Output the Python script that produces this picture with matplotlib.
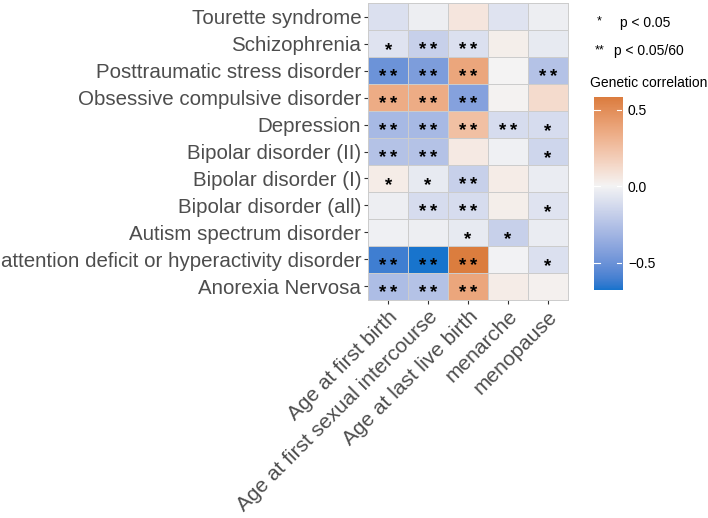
import numpy as np
import matplotlib.pyplot as plt
from matplotlib.colors import ListedColormap, Normalize, to_rgb

plt.rcParams['font.family'] = ['Liberation Sans', 'DejaVu Sans']

traits = ['Age at first birth', 'Age at first sexual intercourse',
          'Age at last live birth', 'menarche', 'menopause']
disorders = ['Tourette syndrome', 'Schizophrenia', 'Posttraumatic stress disorder',
             'Obsessive compulsive disorder', 'Depression', 'Bipolar disorder (II)',
             'Bipolar disorder (I)', 'Bipolar disorder (all)', 'Autism spectrum disorder',
             'attention deficit or hyperactivity disorder', 'Anorexia Nervosa']

# genetic correlation, rows top -> bottom
rg = np.array([
    [-0.10, -0.03, 0.07, -0.08, -0.03],
    [-0.08, -0.18, -0.10, 0.03, -0.05],
    [-0.50, -0.45, 0.38, 0.00, -0.25],
    [0.35, 0.35, -0.42, 0.01, 0.12],
    [-0.30, -0.30, 0.25, -0.12, -0.12],
    [-0.25, -0.25, 0.05, -0.02, -0.15],
    [0.04, -0.05, -0.18, 0.04, -0.04],
    [-0.03, -0.12, -0.12, 0.03, -0.08],
    [-0.02, -0.03, -0.05, -0.18, -0.04],
    [-0.62, -0.68, 0.58, -0.01, -0.10],
    [-0.28, -0.25, 0.38, 0.04, 0.02],
])
stars = [
    ['', '', '', '', ''],
    ['*', '**', '**', '', ''],
    ['**', '**', '**', '', '**'],
    ['**', '**', '**', '', ''],
    ['**', '**', '**', '**', '*'],
    ['**', '**', '', '', '*'],
    ['*', '*', '**', '', ''],
    ['', '**', '**', '', '*'],
    ['', '', '*', '*', ''],
    ['**', '**', '**', '', '*'],
    ['**', '**', '**', '', ''],
]


# diverging ramp interpolated in CIELAB (like ggplot's gradient2)
def srgb_to_lab(c):
    c = np.asarray(c, float)
    lin = np.where(c <= 0.04045, c / 12.92, ((c + 0.055) / 1.055) ** 2.4)
    M = np.array([[0.4124, 0.3576, 0.1805], [0.2126, 0.7152, 0.0722], [0.0193, 0.1192, 0.9505]])
    xyz = M @ lin / np.array([0.95047, 1.0, 1.08883])
    f = np.where(xyz > 0.008856, np.cbrt(xyz), 7.787 * xyz + 16 / 116)
    return np.array([116 * f[1] - 16, 500 * (f[0] - f[1]), 200 * (f[1] - f[2])])


def lab_to_srgb(lab):
    L, a, b = lab
    fy = (L + 16) / 116
    fx, fz = fy + a / 500, fy - b / 200
    f = np.array([fx, fy, fz])
    xyz = np.where(f ** 3 > 0.008856, f ** 3, (f - 16 / 116) / 7.787) * np.array([0.95047, 1.0, 1.08883])
    Minv = np.array([[3.2406, -1.5372, -0.4986], [-0.9689, 1.8758, 0.0415], [0.0557, -0.2040, 1.0570]])
    lin = Minv @ xyz
    c = np.where(lin <= 0.0031308, 12.92 * lin, 1.055 * np.clip(lin, 0, None) ** (1 / 2.4) - 0.055)
    return np.clip(c, 0, 1)


low, mid, high = [srgb_to_lab(to_rgb(c)) for c in ('#1874CD', '#F4F4F4', '#D2691E')]
ramp = []
for t in np.linspace(0, 1, 256):
    if t < 0.5:
        lab = low + (mid - low) * (t / 0.5)
    else:
        lab = mid + (high - mid) * ((t - 0.5) / 0.5)
    ramp.append(lab_to_srgb(lab))
cmap = ListedColormap(ramp)
m = np.abs(rg).max()
norm = Normalize(-m, m)

fig = plt.figure(figsize=(7.08, 5.18), dpi=100)
ax = fig.add_axes([0.520, 0.421, 0.282, 0.573])
ax.pcolormesh(np.arange(len(traits) + 1), np.arange(len(disorders) + 1), rg,
              cmap=cmap, norm=norm, edgecolors='#cccccc', linewidth=0.7)
ax.set_xlim(0, len(traits))
ax.set_ylim(len(disorders), 0)
for i in range(len(disorders)):
    for j in range(len(traits)):
        if stars[i][j]:
            ax.text(j + 0.5, i + 0.92, '\u2009'.join(stars[i][j]), ha='center',
                    va='baseline', fontsize=13.5, fontweight='bold', color='black')

ax.set_xticks(np.arange(len(traits)) + 0.5)
ax.set_xticklabels(traits, rotation=45, ha='right', rotation_mode='anchor',
                   fontsize=15, color='#4d4d4d')
ax.set_yticks(np.arange(len(disorders)) + 0.5)
ax.set_yticklabels(disorders, fontsize=14.8, color='#4d4d4d')
ax.tick_params(length=3, width=0.8, color='#333333', pad=2)
for s in ax.spines.values():
    s.set_color('#cccccc')
    s.set_linewidth(0.7)

# legend for stars
fig.text(0.843, 0.953, '*', fontsize=9, color='black')
fig.text(0.875, 0.948, 'p < 0.05', fontsize=10, color='black')
fig.text(0.840, 0.896, '**', fontsize=9, color='black')
fig.text(0.867, 0.894, 'p < 0.05/60', fontsize=10, color='black')
fig.text(0.834, 0.832, 'Genetic correlation', fontsize=10, color='black')

# colour bar spanning the data range
cax = fig.add_axes([0.839, 0.440, 0.040, 0.372])
lo, hi = rg.min(), rg.max()
grad = np.linspace(lo, hi, 300)[:, None]
cax.imshow(grad, cmap=cmap, norm=norm, aspect='auto', origin='lower',
           extent=[0, 1, lo, hi])
cax.set_xticks([])
cax.yaxis.tick_right()
cax.set_yticks([-0.5, 0.0, 0.5])
cax.set_yticklabels(['\u22120.5', '0.0', '0.5'], fontsize=10, color='black')
cax.tick_params(axis='y', length=0, pad=4)
for t in [-0.5, 0.0, 0.5]:
    cax.plot([0, 0.2], [t, t], color='white', lw=0.8)
    cax.plot([0.8, 1], [t, t], color='white', lw=0.8)
cax.set_xlim(0, 1)
cax.set_ylim(lo, hi)
for s in cax.spines.values():
    s.set_visible(False)

fig.savefig('out.png', dpi=100)
